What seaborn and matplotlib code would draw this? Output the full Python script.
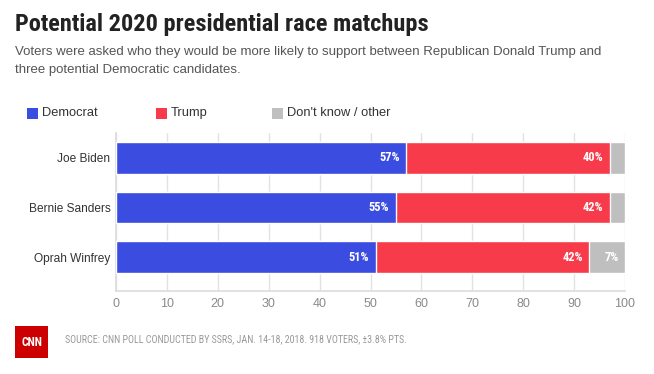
import matplotlib
matplotlib.use("Agg")
import matplotlib.pyplot as plt
from matplotlib import font_manager
import seaborn as sns
import pandas as pd
import numpy as np

candidates = ["Joe Biden", "Bernie Sanders", "Oprah Winfrey"]
democrat = [57, 55, 51]
trump = [40, 42, 42]
other = [3, 3, 7]
series_names = ["Democrat", "Trump", "Don't know / other"]
x_ticks = [0, 10, 20, 30, 40, 50, 60, 70, 80, 90, 100]

BLUE = "#3a4de0"
RED = "#f83b4a"
GRAY = "#bfbfbf"

sns.set_theme(style="white")
plt.rcParams['font.family'] = ['Liberation Sans', 'DejaVu Sans']

names = sorted(set(f.name for f in font_manager.fontManager.ttflist))
cands = [n for n in ["Roboto Condensed", "Liberation Sans Narrow", "DejaVu Sans Condensed", "Open Sans Condensed"] if n in names]
NARROW = cands[:1] + ['Liberation Sans', 'DejaVu Sans']
has_narrow = len(cands) > 0

fig = plt.figure(figsize=(6.54, 3.74), dpi=100)
ax = fig.add_axes([116/654, 1-291/374, 509/654, 158/374])

df = pd.DataFrame({"candidate": candidates, "dem": democrat, "trump": trump, "other": other})
df["c2"] = df["dem"] + df["trump"]
df["c3"] = df["c2"] + df["other"]

w = 0.64
sns.barplot(data=df, x="c3", y="candidate", color=GRAY, width=w, ax=ax, saturation=1, orient="h", zorder=3)
sns.barplot(data=df, x="c2", y="candidate", color=RED, width=w, ax=ax, saturation=1, orient="h", zorder=3)
sns.barplot(data=df, x="dem", y="candidate", color=BLUE, width=w, ax=ax, saturation=1, orient="h", zorder=3)

lab_font = dict(color="white", fontsize=8.5 if not has_narrow else 9, fontweight="bold", ha="right", va="center",
                family=NARROW, zorder=5)
for i in range(len(candidates)):
    ax.text(df["dem"][i] - 1.3, i, f"{democrat[i]}%", **lab_font)
    ax.text(df["c2"][i] - 1.3, i, f"{trump[i]}%", **lab_font)
    if other[i] >= 5:
        ax.text(df["c3"][i] - 1.3, i, f"{other[i]}%", **lab_font)

ax.set_xlim(0, 100)
ax.set_ylim(2.68, -0.5)
ax.set_xticks(x_ticks)
ax.set_xticklabels([str(t) for t in x_ticks])
ax.xaxis.grid(True, color="#e2e2e2", linewidth=1, zorder=0)
ax.set_axisbelow(True)
ax.set_xlabel("")
ax.set_ylabel("")
for s in ["top", "right"]:
    ax.spines[s].set_visible(False)
ax.spines["bottom"].set_color("#dddddd")
ax.spines["left"].set_color("#dddddd")
ax.tick_params(axis="x", colors="#8a8a8a", labelsize=9, length=0, pad=5)
ax.tick_params(axis="y", colors="#333333", labelsize=8.6, length=0, pad=4)
for t in ax.get_yticklabels():
    t.set_color("#333333")

# Title and subtitle
fig.text(15/654, 1-25/374, "Potential 2020 presidential race matchups", fontsize=17.6 if has_narrow else 15.3,
         fontweight="bold", color="#222222", va="center", ha="left", family=NARROW)
fig.text(15/654, 1-52/374, "Voters were asked who they would be more likely to support between Republican Donald Trump and",
         fontsize=9.5, color="#555555", va="center", ha="left")
fig.text(15/654, 1-70/374, "three potential Democratic candidates.",
         fontsize=9.5, color="#555555", va="center", ha="left")

# Legend
leg_x = [27, 156, 272]
for hx, c, name in zip(leg_x, [BLUE, RED, GRAY], series_names):
    fig.patches.append(plt.Rectangle((hx/654, 1-119/374), 11/654, 11/374, transform=fig.transFigure,
                                     facecolor=c, edgecolor="none"))
    fig.text((hx + 15)/654, 1-113/374, name, fontsize=9.3, color="#333333", va="center", ha="left")

# CNN logo
fig.patches.append(plt.Rectangle((15/654, 1-358/374), 33/654, 32/374, transform=fig.transFigure,
                                 facecolor="#cc0000", edgecolor="none"))
fig.text(31.5/654, 1-342/374, "CNN", color="white", fontsize=8.5, fontweight="bold",
         ha="center", va="center", family=NARROW)

fig.text(65/654, 1-339/374, "SOURCE: CNN POLL CONDUCTED BY SSRS, JAN. 14-18, 2018. 918 VOTERS, \u00b13.8% PTS.",
         fontsize=7.2 if has_narrow else 6.3, color="#999999", va="center", ha="left", family=NARROW)

fig.savefig("out.png", dpi=100, facecolor="white")
